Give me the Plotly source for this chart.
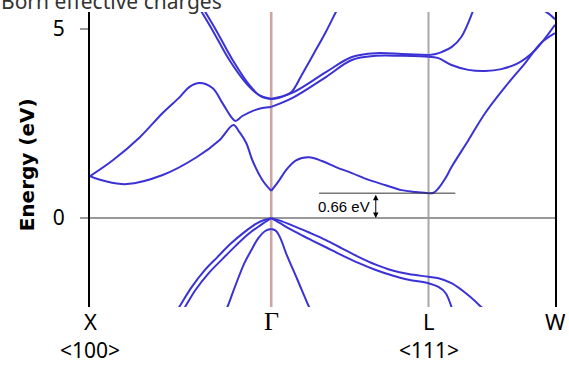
import plotly.graph_objects as go

# ---- high-symmetry points (k in units of 2*pi/a along the path) ----
K_POINTS = [0.0, 1.0, 1.868, 2.566]
K_LABELS = ["X", "Γ", "L", "W"]
DIR_LABELS = ["<100>", "", "<111>", ""]

E_TICKS = [0, 5]
E_RANGE = [-2.35, 5.45]
GAP_EV = 0.66
GAP_TEXT = "0.66 eV"
TITLE = "Born effective charges"
Y_TITLE = "Energy (eV)"

# ---- conduction bands ----
c1_xg_k = [0.0, 0.082, 0.203, 0.401, 0.588, 0.714, 0.791, 0.824, 0.863, 0.896, 0.951, 1.0]
c1_xg_e = [1.11, 0.98, 0.90, 1.14, 1.61, 2.06, 2.46, 2.28, 1.98, 1.53, 1.01, 0.72]
c1_gl_k = [1.0, 1.044, 1.082, 1.137, 1.209, 1.280, 1.357, 1.445, 1.538, 1.632, 1.720, 1.797, 1.868]
c1_gl_e = [0.72, 1.00, 1.27, 1.53, 1.61, 1.51, 1.35, 1.19, 1.01, 0.87, 0.74, 0.69, 0.66]
c1_lw_k = [1.868, 1.896, 1.923, 1.962, 1.995, 2.088, 2.181, 2.291, 2.401, 2.489, 2.566]
c1_lw_e = [0.66, 0.67, 0.79, 1.06, 1.35, 2.06, 2.78, 3.47, 4.10, 4.63, 4.89]

c2_xg_k = [0.0, 0.126, 0.275, 0.401, 0.495, 0.549, 0.604, 0.676, 0.731, 0.780, 0.802, 0.841, 0.896, 0.951, 1.0]
c2_xg_e = [1.11, 1.53, 2.14, 2.78, 3.20, 3.47, 3.57, 3.44, 3.04, 2.67, 2.57, 2.70, 2.83, 2.91, 2.94]

lo_gl_k = [1.0, 1.115, 1.302, 1.445, 1.577, 1.720, 1.868]
lo_gl_e = [2.94, 3.17, 3.73, 4.18, 4.29, 4.29, 4.27]
lo_lw_k = [1.868, 1.923, 1.995, 2.088, 2.181, 2.269, 2.363, 2.456, 2.566]
lo_lw_e = [4.27, 4.23, 4.05, 3.92, 3.89, 3.94, 4.10, 4.44, 5.11]

up_gl_k = [1.0, 1.115, 1.302, 1.445, 1.577, 1.720, 1.868]
up_gl_e = [3.15, 3.31, 3.86, 4.26, 4.36, 4.34, 4.31]
up_lw_k = [1.868, 1.907, 1.940, 1.995, 2.049, 2.115]
up_lw_e = [4.31, 4.34, 4.39, 4.52, 4.79, 5.50]

st_gl_k = [1.0, 1.044, 1.082, 1.115, 1.170, 1.236, 1.302, 1.357, 1.374]
st_gl_e = [3.15, 3.18, 3.25, 3.35, 3.80, 4.36, 4.93, 5.45, 5.60]

sa_xg_k = [0.610, 0.676, 0.769, 0.863, 0.934, 1.0]
sa_xg_e = [5.50, 4.97, 4.18, 3.56, 3.25, 3.15]
sb_xg_k = [0.630, 0.698, 0.791, 0.879, 0.945, 1.0]
sb_xg_e = [5.50, 4.95, 4.15, 3.52, 3.21, 3.15]

cw_k = [2.5, 2.533, 2.566]
cw_e = [5.50, 5.40, 5.26]

# ---- valence bands ----
v1_xg_k = [0.484, 0.505, 0.560, 0.632, 0.703, 0.780, 0.852, 0.923, 0.962, 1.0]
v1_xg_e = [-2.42, -2.25, -1.83, -1.38, -1.03, -0.66, -0.37, -0.13, -0.05, 0.0]
v2_xg_k = [0.511, 0.527, 0.582, 0.654, 0.725, 0.802, 0.874, 0.940, 1.0]
v2_xg_e = [-2.45, -2.33, -1.90, -1.46, -1.11, -0.74, -0.42, -0.19, 0.0]
so_xg_k = [0.747, 0.758, 0.797, 0.852, 0.890, 0.929, 0.967, 1.0]
so_xg_e = [-2.45, -2.35, -1.85, -1.19, -0.85, -0.53, -0.34, -0.29]
so_gl_k = [1.0, 1.027, 1.055, 1.082, 1.143, 1.209, 1.225]
so_gl_e = [-0.29, -0.34, -0.58, -0.93, -1.61, -2.35, -2.50]
v1_gw_k = [1.0, 1.044, 1.115, 1.209, 1.302, 1.390, 1.484, 1.577, 1.665, 1.758, 1.868, 1.923, 1.995, 2.088, 2.159, 2.187]
v1_gw_e = [0.0, -0.06, -0.19, -0.38, -0.58, -0.80, -1.03, -1.23, -1.38, -1.48, -1.55, -1.59, -1.72, -2.04, -2.35, -2.48]
v2_gw_k = [1.0, 1.044, 1.115, 1.209, 1.302, 1.390, 1.484, 1.577, 1.665, 1.758, 1.868, 1.923, 1.962, 1.995, 2.005]
v2_gw_e = [0.0, -0.12, -0.32, -0.55, -0.77, -0.98, -1.19, -1.37, -1.51, -1.63, -1.72, -1.82, -1.98, -2.35, -2.50]

BANDS = [
    (c1_xg_k, c1_xg_e), (c1_gl_k, c1_gl_e), (c1_lw_k, c1_lw_e),
    (c2_xg_k, c2_xg_e), (lo_gl_k, lo_gl_e), (lo_lw_k, lo_lw_e),
    (up_gl_k, up_gl_e), (up_lw_k, up_lw_e), (st_gl_k, st_gl_e),
    (sa_xg_k, sa_xg_e), (sb_xg_k, sb_xg_e), (cw_k, cw_e),
    (v1_xg_k, v1_xg_e), (v2_xg_k, v2_xg_e), (so_xg_k, so_xg_e),
    (so_gl_k, so_gl_e), (v1_gw_k, v1_gw_e), (v2_gw_k, v2_gw_e),
]

BAND_COLOR = "#3b32d6"

fig = go.Figure()
for k, e in BANDS:
    fig.add_trace(go.Scatter(x=k, y=e, mode="lines",
                             line=dict(color=BAND_COLOR, width=2, shape="spline", smoothing=1.0),
                             hoverinfo="skip"))

# vertical lines at Gamma and L
fig.add_shape(type="line", xref="x", yref="paper", x0=K_POINTS[1], x1=K_POINTS[1], y0=0, y1=1,
              line=dict(color="#b0b0b0", width=2.6), layer="below")
fig.add_shape(type="line", xref="x", yref="paper", x0=K_POINTS[1], x1=K_POINTS[1], y0=0, y1=1,
              line=dict(color="#e79a9a", width=1.2), layer="below")
fig.add_shape(type="line", xref="x", yref="paper", x0=K_POINTS[2], x1=K_POINTS[2], y0=0, y1=1,
              line=dict(color="#a8a8a8", width=2), layer="below")

# gap marker
fig.add_shape(type="line", xref="x", yref="y", x0=1.264, x1=2.016, y0=GAP_EV, y1=GAP_EV,
              line=dict(color="#333333", width=1))
fig.add_annotation(x=1.577, y=0, ax=1.577, ay=GAP_EV, xref="x", yref="y", axref="x", ayref="y",
                   text="", showarrow=True, arrowside="end+start", arrowhead=2, arrowsize=1.1,
                   arrowwidth=1, arrowcolor="#000000", standoff=0, startstandoff=0)
fig.add_annotation(x=1.401, y=0.32, xref="x", yref="y", text=GAP_TEXT, showarrow=False,
                   font=dict(family="Liberation Sans", size=15, color="#000000"))

# k-point labels
for kp, lab, dl in zip(K_POINTS, K_LABELS, DIR_LABELS):
    if lab == "Γ":
        fnt = dict(family="Liberation Serif", size=26, color="#000000")
    else:
        fnt = dict(family="Noto Sans", size=22, color="#000000")
    fig.add_annotation(x=kp, y=-0.048, xref="x", yref="paper", text=lab, showarrow=False,
                       yanchor="middle", borderpad=0, font=fnt)
    if dl:
        fig.add_annotation(x=kp, y=-0.146, xref="x", yref="paper", text=dl, showarrow=False,
                           yanchor="middle", borderpad=0,
                           font=dict(family="Noto Sans", size=21, color="#000000"))

# titles
fig.add_annotation(x=-0.195, y=1.037, xref="paper", yref="paper", text=TITLE, showarrow=False,
                   xanchor="left", yanchor="middle", font=dict(family="Noto Sans", size=21, color="#333333"))
fig.add_annotation(x=-0.135, y=0.481, xref="paper", yref="paper", text="<b>" + Y_TITLE + "</b>",
                   showarrow=False, textangle=-90, xanchor="center", yanchor="middle",
                   font=dict(family="DejaVu Sans", size=20, color="#000000"))

fig.update_layout(
    width=569, height=365,
    margin=dict(l=90, r=12, t=12, b=58),
    plot_bgcolor="white", paper_bgcolor="white",
    showlegend=False,
    xaxis=dict(range=[K_POINTS[0], K_POINTS[-1]], showgrid=False, zeroline=False,
               showticklabels=False, ticks="", showline=False),
    yaxis=dict(range=E_RANGE, tickvals=E_TICKS, ticktext=[str(t) for t in E_TICKS],
               ticks="outside", ticklen=8, tickwidth=1.5, tickcolor="#999999",
               showline=True, linecolor="#000000", linewidth=2, mirror=True,
               zeroline=True, zerolinecolor="#999999", zerolinewidth=1.5,
               showgrid=False, ticklabelstandoff=11,
               tickfont=dict(family="Noto Sans", size=21, color="#000000")),
)

fig.write_html("out.html", config={"displayModeBar": False},
               post_script="document.body.style.margin='0';document.body.style.overflow='hidden';")
